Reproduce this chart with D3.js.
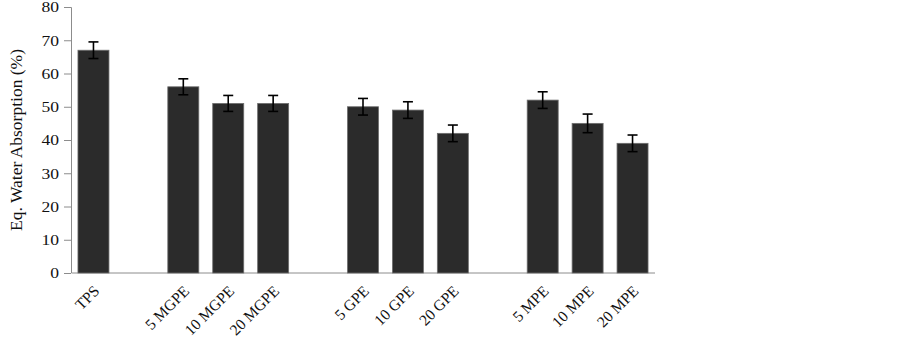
<!DOCTYPE html>
<html><head><meta charset="utf-8">
<script src="https://cdn.jsdelivr.net/npm/d3@7"></script>
<style>body{margin:0;background:#fff}svg{display:block}</style>
</head><body>
<svg id="c" width="903" height="342"></svg>
<script>
const categories = ["TPS", "", "5 MGPE", "10 MGPE", "20 MGPE", "", "5 GPE", "10 GPE", "20 GPE", "", "5 MPE", "10 MPE", "20 MPE"];
const values =     [67, null, 56, 51, 51, null, 50, 49, 42, null, 52, 45, 39];
const errors =     [2.5, null, 2.4, 2.4, 2.4, null, 2.5, 2.5, 2.5, null, 2.5, 2.8, 2.5];
const yTicks = [0, 10, 20, 30, 40, 50, 60, 70, 80];
const yLabel = "Eq. Water Absorption (%)";

const svg = d3.select("#c");
const m = {l: 71, r: 248, t: 7, b: 69};
const W = 903 - m.l - m.r, H = 342 - m.t - m.b;
const g = svg.append("g").attr("transform", `translate(${m.l},${m.t})`);
const idx = categories.map((d, i) => i);
const x = d3.scaleBand().domain(idx).range([0, W]).paddingInner(0.31).paddingOuter(0.155);
const y = d3.scaleLinear().domain([0, 80]).range([H, 0]);
const font = "'Liberation Serif', 'Times New Roman', serif";

// y axis
const ya = g.append("g").call(d3.axisLeft(y).tickValues(yTicks).tickSize(7).tickPadding(5));
ya.select(".domain").attr("stroke", "#8c8c8c").attr("d", `M-7,0.5H0.5V${H}`);
ya.selectAll(".tick line").attr("stroke", "#8c8c8c");
ya.selectAll("text").attr("font-family", font).attr("font-size", 15).attr("fill", "#111")
  .attr("x", 0).attr("transform", "translate(-12,0) scale(1.17,1)");

// x axis
const xa = g.append("g").attr("transform", `translate(0,${H})`)
  .call(d3.axisBottom(x).tickSize(0).tickFormat(i => categories[i]));
xa.select(".domain").attr("stroke", "#8c8c8c").attr("d", `M0.5,0H${W}`);
xa.selectAll("text").attr("font-family", font).attr("font-size", 15.5).attr("fill", "#111")
  .attr("text-anchor", "end").attr("dy", "0.35em")
  .attr("transform", "translate(1,13) rotate(-45)");

const data = idx.filter(i => values[i] != null);
g.selectAll("rect.bar").data(data).enter().append("rect").attr("class", "bar")
  .attr("x", i => x(i)).attr("width", x.bandwidth())
  .attr("y", i => y(values[i])).attr("height", i => H - y(values[i]))
  .attr("fill", "#2b2b2b").attr("stroke", "#6e6e6e").attr("stroke-width", 0.8);

const eb = g.selectAll("g.err").data(data).enter().append("g").attr("class", "err")
  .attr("stroke", "#000").attr("stroke-width", 1.6);
const cx = i => x(i) + x.bandwidth() / 2;
eb.append("line").attr("x1", cx).attr("x2", cx)
  .attr("y1", i => y(values[i] + errors[i])).attr("y2", i => y(values[i] - errors[i]));
eb.append("line").attr("x1", i => cx(i) - 5).attr("x2", i => cx(i) + 5)
  .attr("y1", i => y(values[i] + errors[i])).attr("y2", i => y(values[i] + errors[i]));
eb.append("line").attr("x1", i => cx(i) - 5).attr("x2", i => cx(i) + 5)
  .attr("y1", i => y(values[i] - errors[i])).attr("y2", i => y(values[i] - errors[i]));

svg.append("text").attr("transform", `translate(22,${m.t + H / 2}) rotate(-90)`)
  .attr("text-anchor", "middle").attr("font-family", font).attr("font-size", 17.5)
  .attr("fill", "#111").text(yLabel);
</script>
</body></html>
